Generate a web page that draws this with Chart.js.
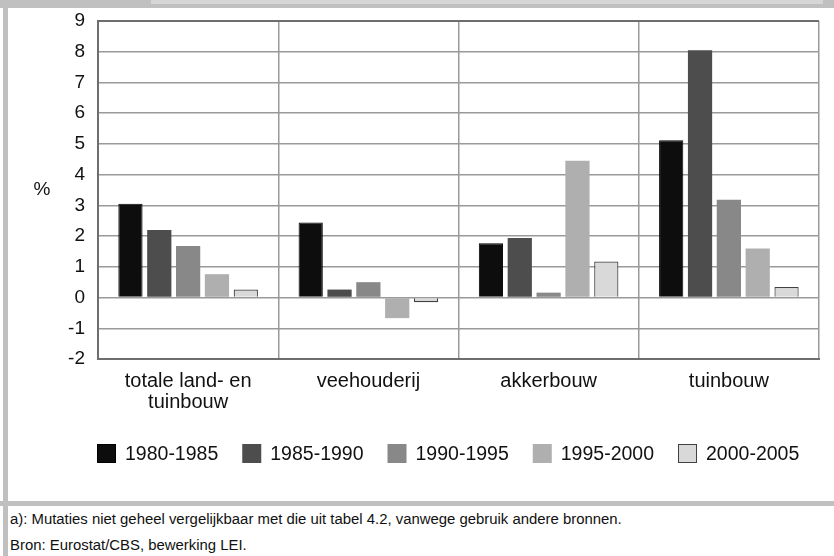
<!DOCTYPE html>
<html>
<head>
<meta charset="utf-8">
<script src="https://cdn.jsdelivr.net/npm/chart.js@4"></script>
<style>
  html, body { margin:0; padding:0; background:#fff; }
  body { width:834px; height:556px; position:relative; overflow:hidden;
         font-family:"Liberation Sans",Arial,sans-serif; }
  .band { position:absolute; background:#c0c0c0; }
  #wrap { position:absolute; left:8px; top:8px; width:826px; height:493px; }
  .note { position:absolute; left:10px; font-size:14.9px; color:#111; white-space:nowrap; }
</style>
</head>
<body>
<div class="band" style="left:0;top:0;width:834px;height:8px;"></div>
<div class="band" style="left:151px;top:0;width:672px;height:4px;background:#d6d6d6;"></div>
<div class="band" style="left:3px;top:0;width:5px;height:556px;"></div>
<div class="band" style="left:0;top:501px;width:834px;height:5px;"></div>
<div id="wrap"><canvas id="c"></canvas></div>
<div class="note" style="top:511px;">a): Mutaties niet geheel vergelijkbaar met die uit tabel 4.2, vanwege gebruik andere bronnen.</div>
<div class="note" style="top:537px;">Bron: Eurostat/CBS, bewerking LEI.</div>
<script>
const FONT = '"Liberation Sans",Arial,sans-serif';

const categories = [['totale land- en', 'tuinbouw'], 'veehouderij', 'akkerbouw', 'tuinbouw'];
const seriesNames = ['1980-1985', '1985-1990', '1990-1995', '1995-2000', '2000-2005'];
const v1980_1985 = [3.05, 2.44, 1.77, 5.12];
const v1985_1990 = [2.20, 0.26, 1.94, 8.05];
const v1990_1995 = [1.68, 0.50, 0.16, 3.18];
const v1995_2000 = [0.76, -0.67, 4.45, 1.60];
const v2000_2005 = [0.26, -0.15, 1.17, 0.34];
const yTicks = [-2, -1, 0, 1, 2, 3, 4, 5, 6, 7, 8, 9];
const yTitle = '%';

const fills = ['#0d0d0d', '#4d4d4d', '#888888', '#afafaf', '#d9d9d9'];
const borders = ['#000000', '#4d4d4d', '#888888', '#afafaf', '#404040'];
const bws = [1, 0, 0, 0, 1.2];
const values = [v1980_1985, v1985_1990, v1990_1995, v1995_2000, v2000_2005];

const datasets = seriesNames.map((n, i) => ({
  label: n, data: values[i], backgroundColor: fills[i], borderColor: borders[i],
  borderWidth: bws[i], categoryPercentage: 0.8, barPercentage: 0.84
}));

const extras = {
  id: 'extras',
  afterDraw(chart) {
    const ctx = chart.ctx, ca = chart.chartArea;
    ctx.save();
    ctx.fillStyle = '#111';
    ctx.font = '19px ' + FONT;
    ctx.textAlign = 'center'; ctx.textBaseline = 'middle';
    ctx.fillText(yTitle, 34, (ca.top + ca.bottom) / 2);
    ctx.font = '19.5px ' + FONT;
    ctx.textAlign = 'left';
    let x = ca.left - 1;
    const y = 445.5;
    chart.data.datasets.forEach((ds, i) => {
      ctx.fillStyle = ds.backgroundColor;
      ctx.fillRect(x, y - 9.5, 19, 19);
      if (ds.borderWidth) {
        ctx.strokeStyle = ds.borderColor; ctx.lineWidth = 1;
        ctx.strokeRect(x + 0.5, y - 9, 18, 18);
      }
      ctx.fillStyle = '#111';
      ctx.fillText(ds.label, x + 28, y + 1);
      x += 28 + ctx.measureText(ds.label).width + 24;
    });
    ctx.restore();
  }
};

new Chart(document.getElementById('c'), {
  type: 'bar',
  data: { labels: categories, datasets },
  options: {
    responsive: true, maintainAspectRatio: false, animation: false,
    layout: { padding: { top: 13, right: 15, bottom: 0, left: 0 } },
    plugins: { legend: { display: false }, tooltip: { enabled: false } },
    scales: {
      x: {
        grid: { offset: true, drawTicks: false,
                color: c => (c.index === 0 || c.index === categories.length) ? '#6e6e6e' : '#9a9a9a',
                lineWidth: c => (c.index === 0 || c.index === categories.length) ? 2 : 1.5 },
        border: { display: true, color: '#6e6e6e', width: 2 },
        ticks: { color: '#111', font: { family: FONT, size: 20, lineHeight: 1.05 }, padding: 12, maxRotation: 0 },
        afterFit: s => { s.height = 142; s.paddingLeft = 0; s.paddingRight = 0; }
      },
      y: {
        min: -2, max: 9,
        afterBuildTicks: s => { s.ticks = yTicks.map(v => ({ value: v })); },
        grid: { drawTicks: false,
                color: c => (c.tick && c.tick.value === 9) ? '#6e6e6e' : '#9a9a9a',
                lineWidth: c => (c.tick && c.tick.value === 9) ? 2 : 1.5 },
        border: { display: true, color: '#6e6e6e', width: 2 },
        ticks: { color: '#111', font: { family: FONT, size: 19 }, padding: 13 },
        afterFit: s => { s.width = 90; s.paddingTop = 0; s.paddingBottom = 0; }
      }
    }
  },
  plugins: [extras]
});
</script>
</body>
</html>
